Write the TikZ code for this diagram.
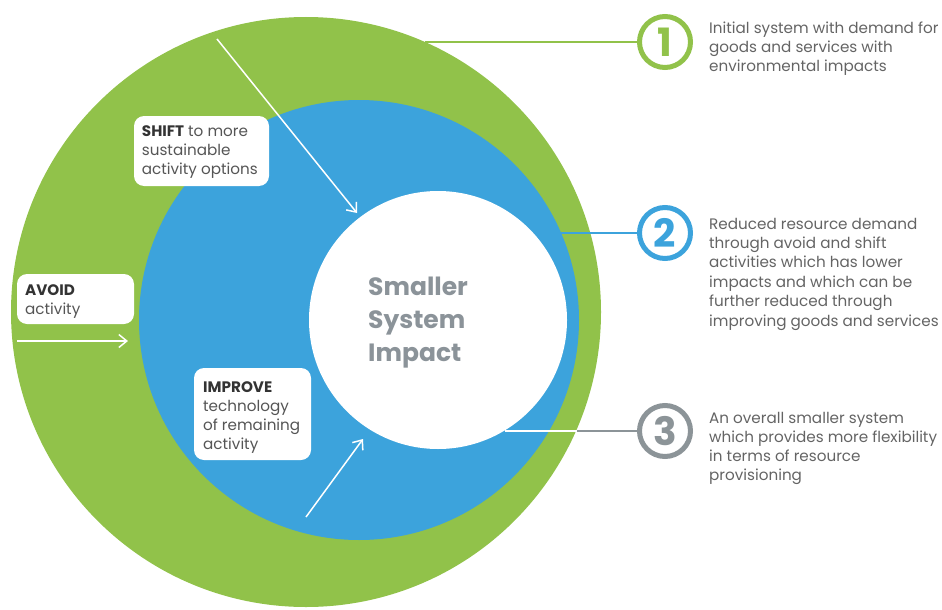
\documentclass[tikz,border=0pt]{standalone}
\usepackage{fontspec}
\setmainfont{Poppins}
\usetikzlibrary{arrows.meta}
\definecolor{cgreen}{RGB}{145,194,74}
\definecolor{cblue}{RGB}{60,163,220}
\definecolor{cgray}{RGB}{140,148,152}
\definecolor{ctext}{RGB}{100,100,100}
\definecolor{clabel}{RGB}{85,85,85}
\definecolor{cbold}{RGB}{51,51,51}
\definecolor{cimpact}{RGB}{139,147,153}
\begin{document}
\begin{tikzpicture}[x=1pt,y=-1pt,
  disc/.style={circle,inner sep=0pt,fill=#1},
  ring/.style={circle,inner sep=0pt,minimum size=51pt,line width=5pt,draw=#1,text=#1,
    font=\fontsize{39}{39}\selectfont\bfseries},
  labelbox/.style={fill=white,rounded corners=10pt,inner sep=0pt},
  txt/.style={anchor=base west,inner sep=0pt},
  flow/.style={draw=white,line width=1.5pt,-{Straight Barb[length=8pt,width=13pt,line width=1.5pt]}},
  link/.style={line width=1.5pt}]
\useasboundingbox (0,0) rectangle (942,610);
% circles
\node[disc=cgreen,minimum size=590pt] (outer) at (306,312) {};
\node[disc=cblue,minimum size=440pt] (middle) at (359,320) {};
\node[disc=white,minimum size=258pt] (inner) at (438,320) {};
% centre text
\node[txt,text=cimpact] (impact) at (368,295)
  {\parbox[t]{150pt}{\raggedright\fontsize{25}{33}\selectfont\bfseries Smaller\\System\\Impact}};
% label boxes
\node[labelbox,minimum width=135pt,minimum height=70pt] (shiftbox) at (201.5,151) {};
\node[txt,text=clabel] (shifttxt) at (141.7,136.7)
  {\parbox[t]{130pt}{\raggedright\fontsize{15.2}{18.8}\selectfont\leavevmode{\bfseries\color{cbold}SHIFT} to more\\sustainable\\activity options}};
\node[labelbox,minimum width=117pt,minimum height=50pt] (avoidbox) at (75.5,299) {};
\node[txt,text=clabel] (avoidtxt) at (25,295)
  {\parbox[t]{110pt}{\raggedright\fontsize{15.2}{19}\selectfont\leavevmode{\bfseries\color{cbold}AVOID}\\activity}};
\node[labelbox,minimum width=117pt,minimum height=92pt] (improvebox) at (252.5,414) {};
\node[txt,text=clabel] (improvetxt) at (203,392)
  {\parbox[t]{110pt}{\raggedright\fontsize{15.2}{19.3}\selectfont\leavevmode{\bfseries\color{cbold}IMPROVE}\\technology\\of remaining\\activity}};
% arrows
\coordinate (avoidA) at (17,341);
\coordinate (avoidB) at (128,341);
\draw[flow] (avoidA) -- (avoidB);
\coordinate (shiftA) at (217,39);
\coordinate (shiftB) at (357,213);
\draw[flow] (shiftA) -- (shiftB);
\coordinate (improveA) at (306,517);
\coordinate (improveB) at (363,439);
\draw[flow] (improveA) -- (improveB);
% numbered rings
\node[ring=cgreen] (n1) at (665,42) {1};
\node[ring=cblue] (n2) at (665,233) {2};
\node[ring=cgray] (n3) at (665,431) {3};
% connectors
\coordinate (g1) at (425,42);
\draw[link,cgreen] (g1) -- (n1);
\coordinate (b2) at (561,233);
\draw[link,cblue] (b2) -- (n2);
\coordinate (w3) at (505,431);
\coordinate (g3) at (577,431);
\draw[link,white] (w3) -- (g3);
\draw[link,cgray] (g3) -- (n3);
% descriptions
\node[txt,text=ctext] (d1) at (709,34)
  {\parbox[t]{240pt}{\raggedright\fontsize{15.2}{18.7}\selectfont Initial system with demand for\\goods and services with\\environmental impacts}};
\node[txt,text=ctext] (d2) at (709,229)
  {\parbox[t]{240pt}{\raggedright\fontsize{15.2}{19.4}\selectfont Reduced resource demand\\through avoid and shift\\activities which has lower\\impacts and which can be\\further reduced through\\improving goods and services}};
\node[txt,text=ctext] (d3) at (709,423)
  {\parbox[t]{240pt}{\raggedright\fontsize{15.2}{19.3}\selectfont An overall smaller system\\which provides more flexibility\\in terms of resource\\provisioning}};
\end{tikzpicture}
\end{document}
